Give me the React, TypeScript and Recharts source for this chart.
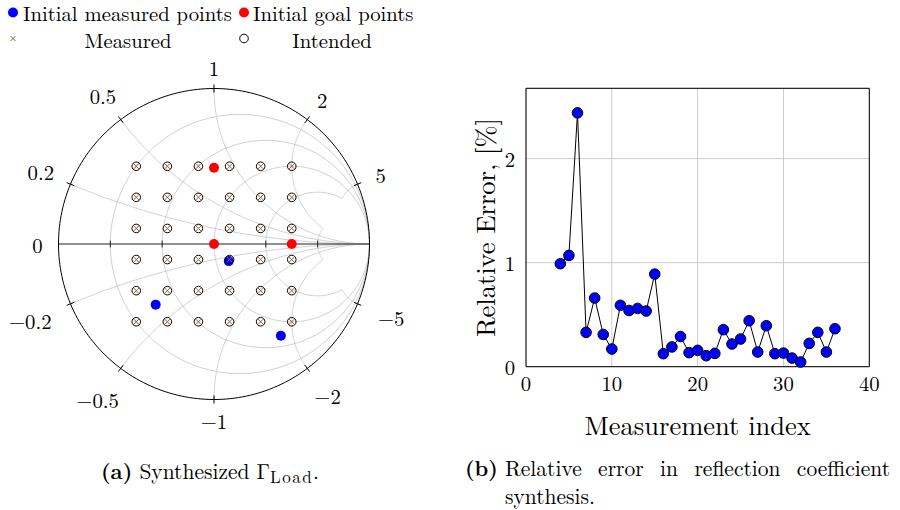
import React from 'react';
import {
  ScatterChart,
  Scatter,
  XAxis,
  YAxis,
  LineChart,
  Line,
  CartesianGrid,
  ReferenceArea,
  Label,
} from 'recharts';

// ---------- Smith chart (a) ----------
const resistanceTicks = [0.2, 0.5, 1, 2, 5];
const reactanceGrid = [0.2, 0.5, 1, 2, 5, -0.2, -0.5, -1, -2, -5];
const reactanceTickValues = [0, 0.2, 0.5, 1, 2, 5, -0.2, -0.5, -1, -2, -5];
const reactanceTickLabels = ['0', '0.2', '0.5', '1', '2', '5', '−0.2', '−0.5', '−1', '−2', '−5'];

// 6x6 grid of intended / measured reflection coefficients (real, imag)
const intendedRe = [-0.5, -0.3, -0.1, 0.1, 0.3, 0.5];
const intendedIm = [0.5, 0.3, 0.1, -0.1, -0.3, -0.5];
const measuredRe = [-0.5, -0.3, -0.1, 0.1, 0.3, 0.5];
const measuredIm = [0.5, 0.3, 0.1, -0.1, -0.3, -0.5];

const initialMeasuredRe = [0.095, -0.375, 0.43];
const initialMeasuredIm = [-0.11, -0.39, -0.59];
const initialGoalRe = [0, 0, 0.5];
const initialGoalIm = [0.49, 0, 0];

// ---------- Relative error (b) ----------
const measurementIndex = [
  4, 5, 6, 7, 8, 9, 10, 11, 12, 13, 14, 15, 16, 17, 18, 19, 20, 21, 22, 23, 24, 25, 26, 27, 28, 29,
  30, 31, 32, 33, 34, 35, 36,
];
const relativeError = [
  0.99, 1.07, 2.44, 0.33, 0.66, 0.31, 0.17, 0.59, 0.54, 0.56, 0.535, 0.89, 0.125, 0.19, 0.29, 0.135,
  0.157, 0.106, 0.128, 0.356, 0.218, 0.266, 0.442, 0.141, 0.394, 0.125, 0.131, 0.083, 0.045, 0.224,
  0.33, 0.141, 0.365,
];
const errXTicks = [0, 10, 20, 30, 40];
const errYTicks = [0, 1, 2];

// ---------- geometry helpers (grid of the Smith chart) ----------
const gamma = (r: number, x: number) => {
  const den = (r + 1) * (r + 1) + x * x;
  return { x: (r * r + x * x - 1) / den, y: (2 * x) / den };
};
// grid lines of value 2 stop at 5 and vice versa (pgfplots-like clipping near Γ = 1)
const stopFor = (v: number) => (Math.abs(v) === 2 ? 5 : Math.abs(v) === 5 ? 2 : Infinity);

const rCircle = (r: number) => {
  const stop = stopFor(r);
  const tMax = isFinite(stop) ? Math.atan(stop) : Math.PI / 2;
  const pts = [];
  if (!isFinite(stop)) pts.push({ x: 1, y: 0 });
  for (let i = 0; i <= 200; i++) {
    const t = -tMax + (i / 200) * 2 * tMax;
    if (Math.abs(Math.abs(t) - Math.PI / 2) < 1e-9) continue;
    pts.push(gamma(r, Math.tan(t)));
  }
  if (!isFinite(stop)) pts.push({ x: 1, y: 0 });
  return pts;
};
const xArc = (x: number) => {
  const stop = stopFor(x);
  const tMax = isFinite(stop) ? Math.atan(stop) : Math.PI / 2;
  const pts = [];
  for (let i = 0; i <= 160; i++) {
    const t = (i / 160) * tMax;
    if (Math.abs(t - Math.PI / 2) < 1e-9) continue;
    pts.push(gamma(Math.tan(t), x));
  }
  if (!isFinite(stop)) pts.push({ x: 1, y: 0 });
  return pts;
};
const unitCircle = (() => {
  const pts = [];
  for (let i = 0; i <= 240; i++) {
    const t = (i / 240) * Math.PI * 2;
    pts.push({ x: Math.cos(t), y: Math.sin(t) });
  }
  return pts;
})();
const realAxis = [
  { x: -1, y: 0 },
  { x: 1, y: 0 },
];
const axisTickSegs = resistanceTicks.map((r) => {
  const g = (r - 1) / (r + 1);
  return [
    { x: g, y: -0.022 },
    { x: g, y: 0.022 },
  ];
});
const outerTickSegs = reactanceGrid.map((x) => {
  const e = gamma(0, x);
  return [
    { x: e.x * 0.974, y: e.y * 0.974 },
    { x: e.x * 1.026, y: e.y * 1.026 },
  ];
});
const labelPoints = reactanceTickValues.map((x, i) => ({ ...gamma(0, x), label: reactanceTickLabels[i] }));

const cross = (re: number[], im: number[]) => {
  const out: { x: number; y: number }[] = [];
  im.forEach((y) => re.forEach((x) => out.push({ x, y })));
  return out;
};
const intendedPts = cross(intendedRe, intendedIm);
const measuredPts = cross(measuredRe, measuredIm);
const initMeasPts = initialMeasuredRe.map((x, i) => ({ x, y: initialMeasuredIm[i] }));
const initGoalPts = initialGoalRe.map((x, i) => ({ x, y: initialGoalIm[i] }));

const errData = measurementIndex.map((m, i) => ({ m, e: relativeError[i] }));

const SERIF =
  '"Latin Modern Roman", "CMU Serif", "Liberation Serif", "Times New Roman", Times, "DejaVu Serif", "Noto Serif", serif';
const GRID = '#c4c4c4';
const BROWN = '#96622f';
const FS = 20.7;

const charW: Record<string, number> = { '.': 5.5, '−': 16 };
const labelWidth = (s: string) => {
  let w = 0;
  for (const ch of s) w += charW[ch] ?? 10;
  return w;
};

const Empty = () => <g />;

const SmithLabel = (p: any) => {
  const { cx, cy, payload } = p;
  const c = payload.x;
  const s = payload.y;
  const diag = Math.abs(c) > 0.05 && Math.abs(s) > 0.05;
  const neg = String(payload.label).startsWith('−');
  const w = labelWidth(payload.label);
  const off = 21 + (w / 2 - 5) * Math.abs(c) + (diag ? 4 : 0) + (diag && neg ? 4 : 0);
  return (
    <text
      x={cx + c * off}
      y={cy - s * off}
      textAnchor="middle"
      dominantBaseline="central"
      fontSize={FS}
      fontFamily={SERIF}
      fill="#000"
    >
      {payload.label}
    </text>
  );
};

const IntendedShape = (p: any) => (
  <circle cx={p.cx} cy={p.cy} r={4.3} fill="none" stroke="#000" strokeWidth={1} />
);
const MeasuredShape = (p: any) => (
  <g stroke={BROWN} strokeWidth={1}>
    <line x1={p.cx - 2.6} y1={p.cy - 2.6} x2={p.cx + 2.6} y2={p.cy + 2.6} />
    <line x1={p.cx - 2.6} y1={p.cy + 2.6} x2={p.cx + 2.6} y2={p.cy - 2.6} />
  </g>
);
const dotShape = (color: string) => (p: any) => <circle cx={p.cx} cy={p.cy} r={5} fill={color} />;

const XTick = (p: any) => (
  <text x={p.x} y={p.y + 8} textAnchor="middle" dominantBaseline="central" fontSize={FS} fontFamily={SERIF} fill="#000">
    {p.payload.value}
  </text>
);
const YTick = (p: any) => (
  <text x={p.x - 3} y={p.y} textAnchor="end" dominantBaseline="central" fontSize={FS} fontFamily={SERIF} fill="#000">
    {p.payload.value}
  </text>
);

const Legend = () => (
  <svg width={440} height={54} style={{ position: 'absolute', left: 0, top: 0 }}>
    <circle cx={13} cy={12.5} r={5} fill="#0000ff" />
    <circle cx={244} cy={12.5} r={5} fill="#ff0000" />
    <g stroke={BROWN} strokeWidth={1}>
      <line x1={10.4} y1={35.9} x2={15.6} y2={41.1} />
      <line x1={10.4} y1={41.1} x2={15.6} y2={35.9} />
    </g>
    <circle cx={244} cy={38.5} r={4.3} fill="none" stroke="#000" strokeWidth={1} />
    <g fontFamily={SERIF} fontSize={FS} fill="#000">
      <text x={23} y={12.5} dominantBaseline="central">Initial measured points</text>
      <text x={253} y={12.5} dominantBaseline="central">Initial goal points</text>
      <text x={128} y={39} dominantBaseline="central" textAnchor="middle">Measured</text>
      <text x={332} y={39} dominantBaseline="central" textAnchor="middle">Intended</text>
    </g>
  </svg>
);

export default function App() {
  return (
    <div
      style={{
        position: 'absolute',
        left: 0,
        top: 0,
        width: 900,
        height: 510,
        background: '#fff',
        overflow: 'hidden',
        fontFamily: SERIF,
      }}
    >
      {/* (b) relative error */}
      <div style={{ position: 'absolute', left: 440, top: 0 }}>
        <LineChart
          width={460}
          height={450}
          data={errData}
          margin={{ top: 88.3, left: 26, right: 30.7, bottom: 23.3 }}
        >
          <CartesianGrid stroke="#cccccc" strokeWidth={1} />
          <XAxis
            type="number"
            dataKey="m"
            domain={[0, 40]}
            ticks={errXTicks}
            height={60}
            axisLine={false}
            tickLine={false}
            tick={XTick}
          >
            <Label
              content={(p: any) => (
                <text
                  x={p.viewBox.x + p.viewBox.width / 2}
                  y={p.viewBox.y + 57}
                  textAnchor="middle"
                  dominantBaseline="central"
                  fontSize={26.5}
                  fontFamily={SERIF}
                  fill="#000"
                >
                  Measurement index
                </text>
              )}
            />
          </XAxis>
          <YAxis
            type="number"
            domain={[0, 2.676]}
            ticks={errYTicks}
            width={60}
            axisLine={false}
            tickLine={false}
            tick={YTick}
          >
            <Label
              content={(p: any) => {
                const cx = p.viewBox.x + p.viewBox.width - 42;
                const cy = p.viewBox.y + p.viewBox.height / 2;
                return (
                  <text
                    x={cx}
                    y={cy}
                    transform={`rotate(-90 ${cx} ${cy})`}
                    textAnchor="middle"
                    dominantBaseline="central"
                    fontSize={26.5}
                    fontFamily={SERIF}
                    fill="#000"
                  >
                    Relative Error, [%]
                  </text>
                );
              }}
            />
          </YAxis>
          <ReferenceArea x1={0} x2={40} y1={0} y2={2.676} fill="none" stroke="#000" strokeWidth={1} />
          <Line
            type="linear"
            dataKey="e"
            stroke="#000"
            strokeWidth={1}
            dot={{ r: 5.3, fill: '#0000ff', stroke: '#000', strokeWidth: 1 }}
            isAnimationActive={false}
          />
        </LineChart>
      </div>

      {/* (a) Smith chart */}
      <div style={{ position: 'absolute', left: -40, top: -30 }}>
        <ScatterChart width={520} height={520} margin={{ top: 40.75, left: 20.75, right: 32.75, bottom: 12.75 }}>
          <XAxis type="number" dataKey="x" domain={[-1.5, 1.5]} hide />
          <YAxis type="number" dataKey="y" domain={[-1.5, 1.5]} hide />
          {resistanceTicks.map((r) => (
            <Scatter
              key={'r' + r}
              data={rCircle(r)}
              line={{ stroke: GRID, strokeWidth: 0.8 }}
              shape={Empty}
              isAnimationActive={false}
              legendType="none"
            />
          ))}
          {reactanceGrid.map((x) => (
            <Scatter
              key={'x' + x}
              data={xArc(x)}
              line={{ stroke: GRID, strokeWidth: 0.8 }}
              shape={Empty}
              isAnimationActive={false}
              legendType="none"
            />
          ))}
          <Scatter data={unitCircle} line={{ stroke: '#000', strokeWidth: 1 }} shape={Empty} isAnimationActive={false} />
          <Scatter data={realAxis} line={{ stroke: '#222', strokeWidth: 1.1 }} shape={Empty} isAnimationActive={false} />
          {axisTickSegs.map((seg, i) => (
            <Scatter key={'at' + i} data={seg} line={{ stroke: '#222', strokeWidth: 1 }} shape={Empty} isAnimationActive={false} />
          ))}
          {outerTickSegs.map((seg, i) => (
            <Scatter key={'ot' + i} data={seg} line={{ stroke: '#000', strokeWidth: 1 }} shape={Empty} isAnimationActive={false} />
          ))}
          <Scatter data={labelPoints} shape={SmithLabel} isAnimationActive={false} />
          <Scatter name="Initial measured points" data={initMeasPts} shape={dotShape('#0000ff')} isAnimationActive={false} />
          <Scatter name="Initial goal points" data={initGoalPts} shape={dotShape('#ff0000')} isAnimationActive={false} />
          <Scatter name="Measured" data={measuredPts} shape={MeasuredShape} isAnimationActive={false} />
          <Scatter name="Intended" data={intendedPts} shape={IntendedShape} isAnimationActive={false} />
        </ScatterChart>
      </div>

      <Legend />

      {/* captions */}
      <div
        style={{
          position: 'absolute',
          left: 101,
          top: 455.5,
          fontSize: 21.5,
          lineHeight: '28px',
          whiteSpace: 'nowrap',
        }}
      >
        <b>(a)</b> Synthesized Γ
        <span style={{ fontSize: 17, letterSpacing: 1.5, position: 'relative', top: 4 }}>Load</span>.
      </div>
      <div
        style={{
          position: 'absolute',
          left: 465,
          top: 453,
          fontSize: 21.5,
          lineHeight: '28px',
          fontWeight: 'bold',
        }}
      >
        (b)
      </div>
      <div
        style={{
          position: 'absolute',
          left: 505,
          top: 453,
          width: 385,
          fontSize: 21.5,
          lineHeight: '28px',
          textAlign: 'justify',
        }}
      >
        Relative error in reflection coefficient synthesis.
      </div>
    </div>
  );
}
